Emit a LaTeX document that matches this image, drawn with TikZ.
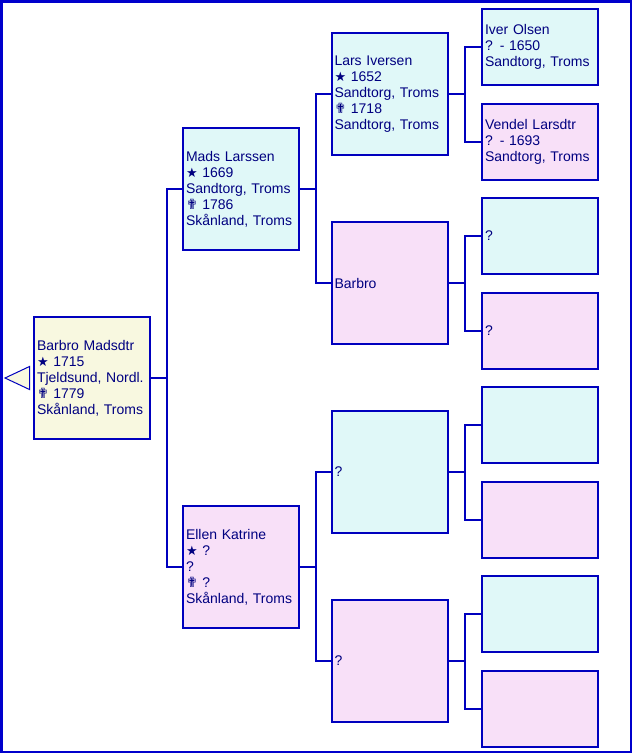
\documentclass[tikz,border=0pt]{standalone}
\usepackage{fontspec}
\setmainfont{Liberation Sans}
\newfontfamily\symfont{DejaVu Sans}
\definecolor{lineblue}{HTML}{0000BE}
\definecolor{frameblue}{HTML}{0000CC}
\definecolor{textblue}{HTML}{000080}
\definecolor{malefill}{HTML}{E0F8F8}
\definecolor{femalefill}{HTML}{F8E0F8}
\definecolor{rootfill}{HTML}{F8F8E0}
\newcommand{\born}{{\symfont\fontsize{13}{13}\selectfont ★}}
\newcommand{\died}{{\symfont\fontsize{14}{14}\selectfont ✟}}
\begin{document}
\begin{tikzpicture}[x=1pt,y=-1pt,
  pbox/.style={draw=lineblue, line width=2pt, text=textblue, inner xsep=3pt, inner ysep=0pt,
    text width=110pt, align=left, minimum height=122pt, font=\fontsize{14}{16}\selectfont},
  male/.style={pbox, fill=malefill},
  female/.style={pbox, fill=femalefill},
  rootbox/.style={pbox, fill=rootfill},
  small/.style={minimum height=76pt},
  link/.style={draw=lineblue, line width=2pt},
  frame/.style={draw=frameblue, line width=2.5pt}]
\useasboundingbox (0,0) rectangle (632,756);
\fill[white] (0,0) rectangle (632,756);
\draw[frame] (1.25,1.25) rectangle (630.75,751.75);

% generation 1
\node[rootbox] (root) at (92,378) {Barbro Madsdtr\\\born\ 1715\\Tjeldsund, Nordl.\\\died\ 1779\\Skånland, Troms};
\draw[draw=lineblue, line width=1pt, fill=rootfill] (5,378) -- (29.5,366.5) -- (29.5,389.5) -- cycle;

% generation 2
\node[male] (mads) at (241,189) {Mads Larssen\\\born\ 1669\\Sandtorg, Troms\\\died\ 1786\\Skånland, Troms};
\node[female] (ellen) at (241,567) {Ellen Katrine\\\born\ ?\\?\\\died\ ?\\Skånland, Troms};

% generation 3
\node[male] (lars) at (389.5,94) {Lars Iversen\\\born\ 1652\\Sandtorg, Troms\\\died\ 1718\\Sandtorg, Troms};
\node[female] (barbro) at (389.5,283) {Barbro};
\node[male] (m3) at (389.5,472) {?};
\node[female] (f3) at (389.5,661) {?};

% generation 4
\node[male,small] (iver) at (540,47) {Iver Olsen\\? - 1650\\Sandtorg, Troms};
\node[female,small] (vendel) at (540,142) {Vendel Larsdtr\\? - 1693\\Sandtorg, Troms};
\node[male,small] (bm) at (540,236) {?};
\node[female,small] (bf) at (540,331) {?};
\node[male,small] (cm) at (540,425) {};
\node[female,small] (cf) at (540,520) {};
\node[male,small] (dm) at (540,614) {};
\node[female,small] (df) at (540,709) {};

% connectors
\draw[link] (root.east) -- ++(16,0) |- (mads.west);
\draw[link] (root.east) -- ++(16,0) |- (ellen.west);
\draw[link] (mads.east) -- ++(16,0) |- (lars.west);
\draw[link] (mads.east) -- ++(16,0) |- (barbro.west);
\draw[link] (ellen.east) -- ++(16,0) |- (m3.west);
\draw[link] (ellen.east) -- ++(16,0) |- (f3.west);
\draw[link] (lars.east) -- ++(16.5,0) |- (iver.west);
\draw[link] (lars.east) -- ++(16.5,0) |- (vendel.west);
\draw[link] (barbro.east) -- ++(16.5,0) |- (bm.west);
\draw[link] (barbro.east) -- ++(16.5,0) |- (bf.west);
\draw[link] (m3.east) -- ++(16.5,0) |- (cm.west);
\draw[link] (m3.east) -- ++(16.5,0) |- (cf.west);
\draw[link] (f3.east) -- ++(16.5,0) |- (dm.west);
\draw[link] (f3.east) -- ++(16.5,0) |- (df.west);
\end{tikzpicture}
\end{document}
